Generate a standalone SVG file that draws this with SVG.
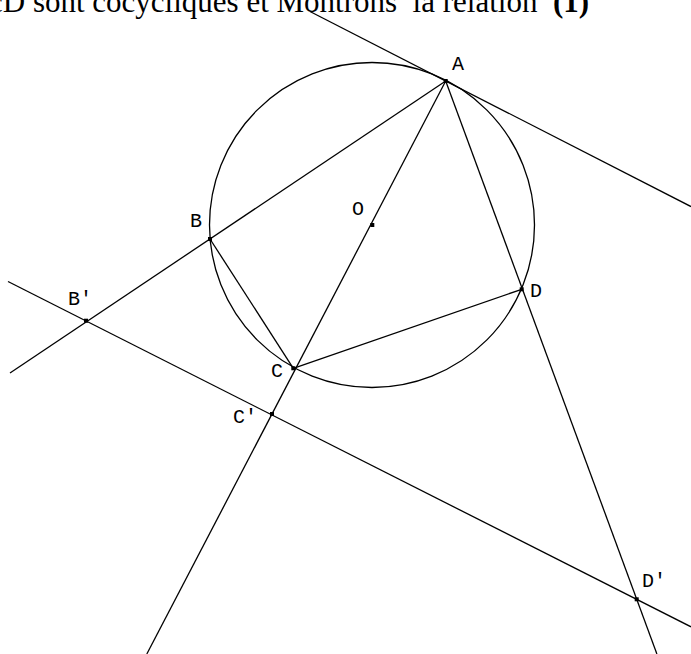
<svg xmlns="http://www.w3.org/2000/svg" width="691" height="654" viewBox="0 0 691 654">
<style>
.ln{stroke:#000;stroke-width:1.3;fill:none}
.pt{fill:#000}
.lb{font-family:"Liberation Mono","Courier New",monospace;font-size:20px;fill:#000}
.title{font-family:"Liberation Serif","Times New Roman",serif;font-size:31px;fill:#000}
</style>
<rect width="691" height="654" fill="#fff"/>
<text class="title" x="-11" y="12" xml:space="preserve">cD sont cocycliques et Montrons  la relation  <tspan font-weight="bold">(1)</tspan></text>
<circle id="circle" class="ln" cx="372" cy="225" r="162.5"/>
<g id="connectors">
<line class="ln" x1="310" y1="11.5" x2="691" y2="206.6"/>
<line class="ln" x1="445.7" y1="81" x2="10" y2="373"/>
<line class="ln" x1="8" y1="281.5" x2="691" y2="626.8"/>
<line class="ln" x1="445.7" y1="81" x2="146.8" y2="654"/>
<line class="ln" x1="445.7" y1="81" x2="656.9" y2="654"/>
<line class="ln" x1="210" y1="239" x2="293.3" y2="368.3"/>
<line class="ln" x1="293.3" y1="368.3" x2="521.7" y2="289.3"/>
</g>
<g id="A"><rect class="pt" x="443.7" y="79" width="4" height="4"/><text class="lb" x="452" y="70">A</text></g>
<g id="B"><rect class="pt" x="208" y="237" width="4" height="4"/><text class="lb" x="190" y="227">B</text></g>
<g id="Bp"><rect class="pt" x="84" y="318.7" width="4" height="4"/><text class="lb" x="68" y="305">B'</text></g>
<g id="C"><rect class="pt" x="291.3" y="366.3" width="4" height="4"/><text class="lb" x="271" y="377">C</text></g>
<g id="Cp"><rect class="pt" x="270" y="412" width="4" height="4"/><text class="lb" x="233" y="423">C'</text></g>
<g id="O"><rect class="pt" x="370.3" y="223" width="4" height="4"/><text class="lb" x="352" y="215">O</text></g>
<g id="D"><rect class="pt" x="519.7" y="287.3" width="4" height="4"/><text class="lb" x="530" y="297">D</text></g>
<g id="Dp"><rect class="pt" x="634.7" y="597.3" width="4" height="4"/><text class="lb" x="642" y="587">D'</text></g>
</svg>
